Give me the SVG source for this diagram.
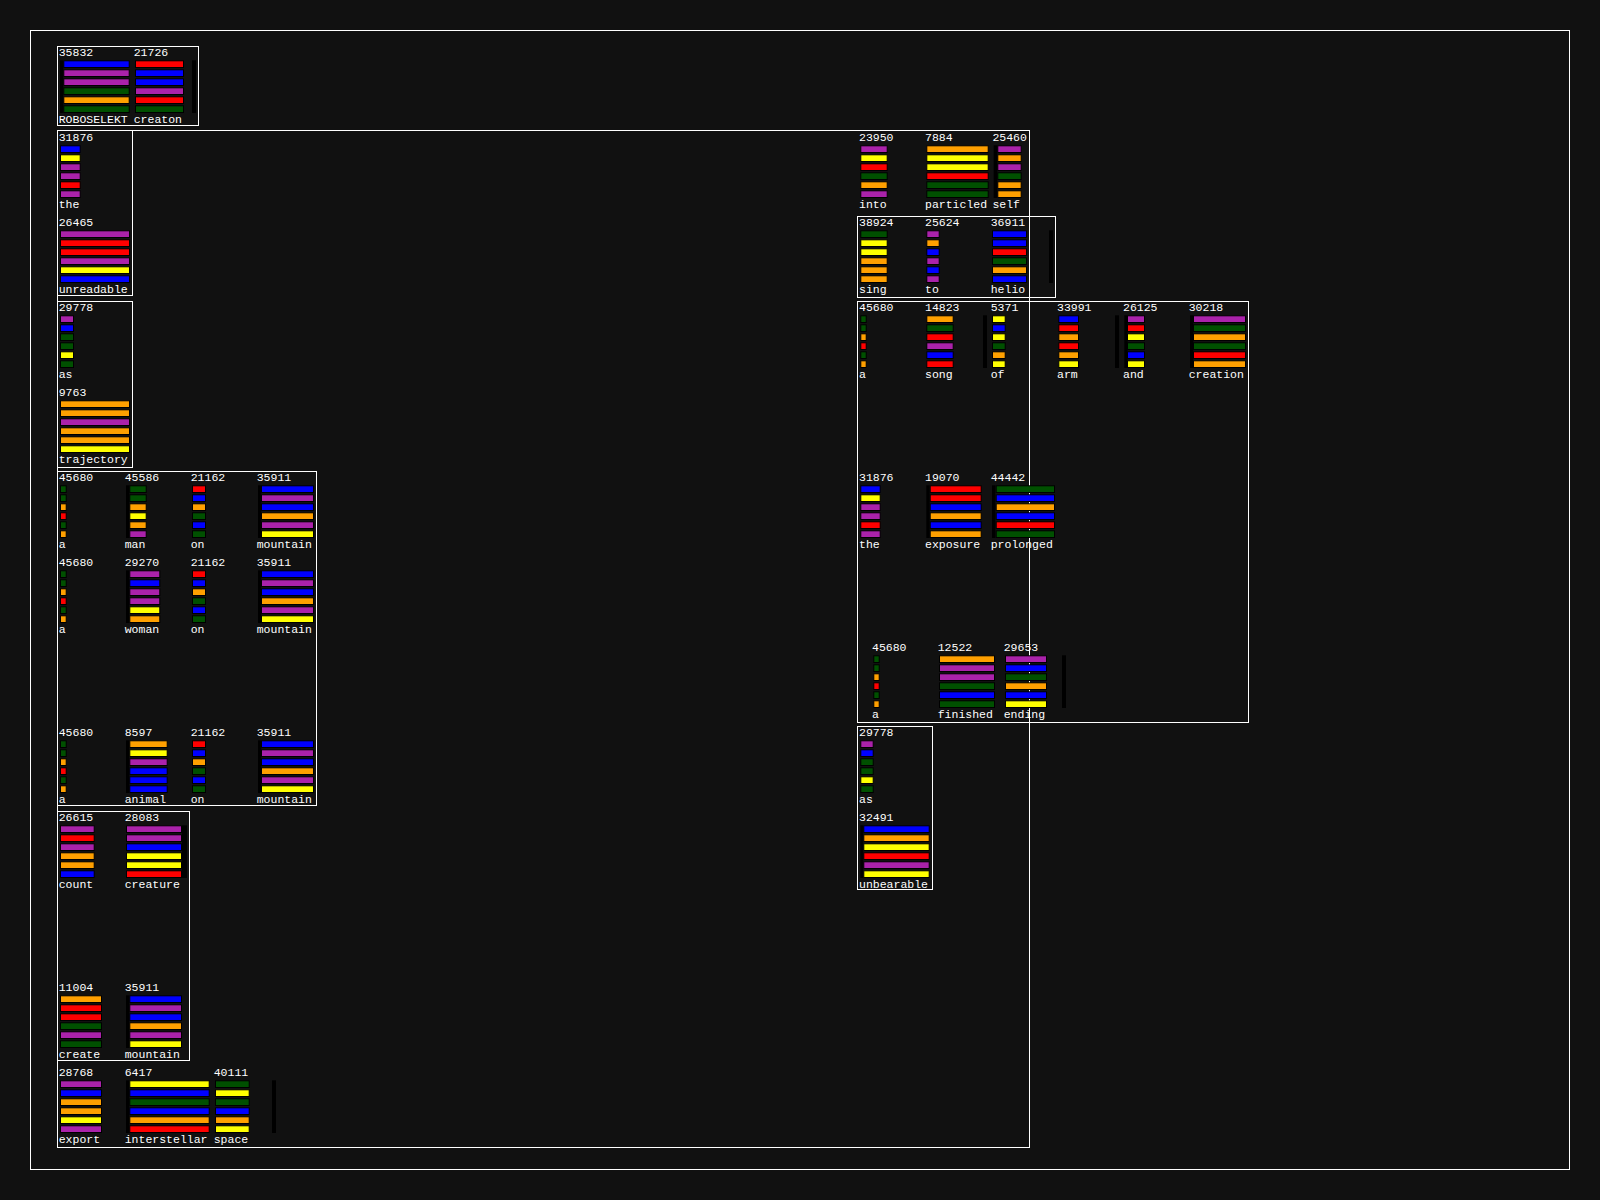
<svg xmlns="http://www.w3.org/2000/svg" width="1600" height="1200" viewBox="0 0 1600 1200">
<style>
.t{font-family:"Liberation Mono","DejaVu Sans Mono",monospace;font-size:11.5px;fill:#fff}
.f{fill:none;stroke:#fff;stroke-width:1}
rect.b{stroke:#000;stroke-width:1;height:6.7px}
.B{fill:#0000ff}.P{fill:#aa22aa}.G{fill:#005000}.O{fill:#ffa000}.Y{fill:#ffff00}.R{fill:#ff0000}
.k{fill:#000}
</style>
<rect x="0" y="0" width="1600" height="1200" fill="#111111"/>
<g id="frames">
<rect class="f" x="30.5" y="30.5" width="1539" height="1139"/>
<rect class="f" x="57.5" y="46.5" width="141" height="79"/>
<rect class="f" x="57.5" y="130.5" width="972" height="1017"/>
<rect class="f" x="57.5" y="130.5" width="75" height="165"/>
<rect class="f" x="57.5" y="301.5" width="75" height="166"/>
<rect class="f" x="57.5" y="471.5" width="259" height="334"/>
<rect class="f" x="57.5" y="811.5" width="132" height="249"/>
<rect class="f" x="857.5" y="216.5" width="198" height="81"/>
<rect class="f" x="857.5" y="301.5" width="391" height="421"/>
<rect class="f" x="857.5" y="726.5" width="75" height="163"/>
</g>
<g id="connectors"></g>

<!-- Box A -->
<g id="n-roboselekt" transform="translate(60,56)">
<rect class="k" x="0" y="4.3" width="3.3" height="52.7"/>
<rect class="b B" x="3.8" y="4.8" width="65.4"/><rect class="b P" x="3.8" y="13.8" width="65.4"/><rect class="b P" x="3.8" y="22.8" width="65.4"/><rect class="b G" x="3.8" y="31.8" width="65.4"/><rect class="b O" x="3.8" y="40.8" width="65.4"/><rect class="b G" x="3.8" y="49.8" width="65.4"/>
<text class="t" x="-1.3" y="0">35832</text><text class="t" x="-1.3" y="66.7">ROBOSELEKT</text>
</g>
<g id="n-creaton" transform="translate(135,56)">
<rect class="b R" x="0.5" y="4.8" width="48"/><rect class="b B" x="0.5" y="13.8" width="48"/><rect class="b B" x="0.5" y="22.8" width="48"/><rect class="b P" x="0.5" y="31.8" width="48"/><rect class="b R" x="0.5" y="40.8" width="48"/><rect class="b G" x="0.5" y="49.8" width="48"/>
<text class="t" x="-1.3" y="0">21726</text><text class="t" x="-1.3" y="66.7">creaton</text>
</g>
<g id="s-a"><rect class="k" x="192" y="60.3" width="4" height="52.7"/></g>

<!-- Box B -->
<g id="n-the-1" transform="translate(60,141)">
<rect class="b B" x="0.5" y="4.8" width="19.7"/><rect class="b Y" x="0.5" y="13.8" width="19.7"/><rect class="b P" x="0.5" y="22.8" width="19.7"/><rect class="b P" x="0.5" y="31.8" width="19.7"/><rect class="b R" x="0.5" y="40.8" width="19.7"/><rect class="b P" x="0.5" y="49.8" width="19.7"/>
<text class="t" x="-1.3" y="0">31876</text><text class="t" x="-1.3" y="66.7">the</text>
</g>
<g id="n-unreadable" transform="translate(60,226)">
<rect class="b P" x="0.5" y="4.8" width="69"/><rect class="b R" x="0.5" y="13.8" width="69"/><rect class="b R" x="0.5" y="22.8" width="69"/><rect class="b P" x="0.5" y="31.8" width="69"/><rect class="b Y" x="0.5" y="40.8" width="69"/><rect class="b B" x="0.5" y="49.8" width="69"/>
<text class="t" x="-1.3" y="0">26465</text><text class="t" x="-1.3" y="66.7">unreadable</text>
</g>

<!-- Box C -->
<g id="n-as-1" transform="translate(60,311)">
<rect class="b P" x="0.5" y="4.8" width="13"/><rect class="b B" x="0.5" y="13.8" width="13"/><rect class="b G" x="0.5" y="22.8" width="13"/><rect class="b G" x="0.5" y="31.8" width="13"/><rect class="b Y" x="0.5" y="40.8" width="13"/><rect class="b G" x="0.5" y="49.8" width="13"/>
<text class="t" x="-1.3" y="0">29778</text><text class="t" x="-1.3" y="66.7">as</text>
</g>
<g id="n-trajectory" transform="translate(60,396)">
<rect class="b O" x="0.5" y="4.8" width="69"/><rect class="b O" x="0.5" y="13.8" width="69"/><rect class="b P" x="0.5" y="22.8" width="69"/><rect class="b O" x="0.5" y="31.8" width="69"/><rect class="b O" x="0.5" y="40.8" width="69"/><rect class="b Y" x="0.5" y="49.8" width="69"/>
<text class="t" x="-1.3" y="0">9763</text><text class="t" x="-1.3" y="66.7">trajectory</text>
</g>

<!-- Box D -->
<g id="n-a-1" transform="translate(60,481)">
<rect class="b G" x="0.5" y="4.8" width="5.7"/><rect class="b G" x="0.5" y="13.8" width="5.7"/><rect class="b O" x="0.5" y="22.8" width="5.7"/><rect class="b R" x="0.5" y="31.8" width="5.7"/><rect class="b G" x="0.5" y="40.8" width="5.7"/><rect class="b O" x="0.5" y="49.8" width="5.7"/>
<text class="t" x="-1.3" y="0">45680</text><text class="t" x="-1.3" y="66.7">a</text>
</g>
<g id="n-man" transform="translate(126,481)">
<rect class="k" x="0" y="4.3" width="3.3" height="52.7"/>
<rect class="b G" x="3.8" y="4.8" width="16.4"/><rect class="b G" x="3.8" y="13.8" width="16.4"/><rect class="b O" x="3.8" y="22.8" width="16.4"/><rect class="b Y" x="3.8" y="31.8" width="16.4"/><rect class="b O" x="3.8" y="40.8" width="16.4"/><rect class="b P" x="3.8" y="49.8" width="16.4"/>
<text class="t" x="-1.3" y="0">45586</text><text class="t" x="-1.3" y="66.7">man</text>
</g>
<g id="n-on-1" transform="translate(192,481)">
<rect class="b R" x="0.5" y="4.8" width="13"/><rect class="b B" x="0.5" y="13.8" width="13"/><rect class="b O" x="0.5" y="22.8" width="13"/><rect class="b G" x="0.5" y="31.8" width="13"/><rect class="b B" x="0.5" y="40.8" width="13"/><rect class="b G" x="0.5" y="49.8" width="13"/>
<text class="t" x="-1.3" y="0">21162</text><text class="t" x="-1.3" y="66.7">on</text>
</g>
<g id="n-mountain-1" transform="translate(258,481)">
<rect class="k" x="0" y="4.3" width="3.3" height="52.7"/>
<rect class="b B" x="3.5" y="4.8" width="52"/><rect class="b P" x="3.5" y="13.8" width="52"/><rect class="b B" x="3.5" y="22.8" width="52"/><rect class="b O" x="3.5" y="31.8" width="52"/><rect class="b P" x="3.5" y="40.8" width="52"/><rect class="b Y" x="3.5" y="49.8" width="52"/>
<text class="t" x="-1.3" y="0">35911</text><text class="t" x="-1.3" y="66.7">mountain</text>
</g>

<g id="n-a-2" transform="translate(60,566)">
<rect class="b G" x="0.5" y="4.8" width="5.7"/><rect class="b G" x="0.5" y="13.8" width="5.7"/><rect class="b O" x="0.5" y="22.8" width="5.7"/><rect class="b R" x="0.5" y="31.8" width="5.7"/><rect class="b G" x="0.5" y="40.8" width="5.7"/><rect class="b O" x="0.5" y="49.8" width="5.7"/>
<text class="t" x="-1.3" y="0">45680</text><text class="t" x="-1.3" y="66.7">a</text>
</g>
<g id="n-woman" transform="translate(126,566)">
<rect class="k" x="0" y="4.3" width="3.3" height="52.7"/>
<rect class="b P" x="3.8" y="4.8" width="30"/><rect class="b B" x="3.8" y="13.8" width="30"/><rect class="b P" x="3.8" y="22.8" width="30"/><rect class="b P" x="3.8" y="31.8" width="30"/><rect class="b Y" x="3.8" y="40.8" width="30"/><rect class="b O" x="3.8" y="49.8" width="30"/>
<text class="t" x="-1.3" y="0">29270</text><text class="t" x="-1.3" y="66.7">woman</text>
</g>
<g id="n-on-2" transform="translate(192,566)">
<rect class="b R" x="0.5" y="4.8" width="13"/><rect class="b B" x="0.5" y="13.8" width="13"/><rect class="b O" x="0.5" y="22.8" width="13"/><rect class="b G" x="0.5" y="31.8" width="13"/><rect class="b B" x="0.5" y="40.8" width="13"/><rect class="b G" x="0.5" y="49.8" width="13"/>
<text class="t" x="-1.3" y="0">21162</text><text class="t" x="-1.3" y="66.7">on</text>
</g>
<g id="n-mountain-2" transform="translate(258,566)">
<rect class="k" x="0" y="4.3" width="3.3" height="52.7"/>
<rect class="b B" x="3.5" y="4.8" width="52"/><rect class="b P" x="3.5" y="13.8" width="52"/><rect class="b B" x="3.5" y="22.8" width="52"/><rect class="b O" x="3.5" y="31.8" width="52"/><rect class="b P" x="3.5" y="40.8" width="52"/><rect class="b Y" x="3.5" y="49.8" width="52"/>
<text class="t" x="-1.3" y="0">35911</text><text class="t" x="-1.3" y="66.7">mountain</text>
</g>

<g id="n-a-3" transform="translate(60,736)">
<rect class="b G" x="0.5" y="4.8" width="5.7"/><rect class="b G" x="0.5" y="13.8" width="5.7"/><rect class="b O" x="0.5" y="22.8" width="5.7"/><rect class="b R" x="0.5" y="31.8" width="5.7"/><rect class="b G" x="0.5" y="40.8" width="5.7"/><rect class="b O" x="0.5" y="49.8" width="5.7"/>
<text class="t" x="-1.3" y="0">45680</text><text class="t" x="-1.3" y="66.7">a</text>
</g>
<g id="n-animal" transform="translate(126,736)">
<rect class="k" x="0" y="4.3" width="3.3" height="52.7"/>
<rect class="b O" x="3.8" y="4.8" width="37.4"/><rect class="b Y" x="3.8" y="13.8" width="37.4"/><rect class="b P" x="3.8" y="22.8" width="37.4"/><rect class="b B" x="3.8" y="31.8" width="37.4"/><rect class="b B" x="3.8" y="40.8" width="37.4"/><rect class="b B" x="3.8" y="49.8" width="37.4"/>
<text class="t" x="-1.3" y="0">8597</text><text class="t" x="-1.3" y="66.7">animal</text>
</g>
<g id="n-on-3" transform="translate(192,736)">
<rect class="b R" x="0.5" y="4.8" width="13"/><rect class="b B" x="0.5" y="13.8" width="13"/><rect class="b O" x="0.5" y="22.8" width="13"/><rect class="b G" x="0.5" y="31.8" width="13"/><rect class="b B" x="0.5" y="40.8" width="13"/><rect class="b G" x="0.5" y="49.8" width="13"/>
<text class="t" x="-1.3" y="0">21162</text><text class="t" x="-1.3" y="66.7">on</text>
</g>
<g id="n-mountain-3" transform="translate(258,736)">
<rect class="k" x="0" y="4.3" width="3.3" height="52.7"/>
<rect class="b B" x="3.5" y="4.8" width="52"/><rect class="b P" x="3.5" y="13.8" width="52"/><rect class="b B" x="3.5" y="22.8" width="52"/><rect class="b O" x="3.5" y="31.8" width="52"/><rect class="b P" x="3.5" y="40.8" width="52"/><rect class="b Y" x="3.5" y="49.8" width="52"/>
<text class="t" x="-1.3" y="0">35911</text><text class="t" x="-1.3" y="66.7">mountain</text>
</g>

<!-- Box E -->
<g id="n-count" transform="translate(60,821)">
<rect class="b P" x="0.5" y="4.8" width="33.7"/><rect class="b R" x="0.5" y="13.8" width="33.7"/><rect class="b P" x="0.5" y="22.8" width="33.7"/><rect class="b O" x="0.5" y="31.8" width="33.7"/><rect class="b O" x="0.5" y="40.8" width="33.7"/><rect class="b B" x="0.5" y="49.8" width="33.7"/>
<text class="t" x="-1.3" y="0">26615</text><text class="t" x="-1.3" y="66.7">count</text>
</g>
<g id="n-creature" transform="translate(126,821)">
<rect class="k" x="56" y="4.3" width="5" height="52.7"/>
<rect class="b P" x="0.5" y="4.8" width="55"/><rect class="b P" x="0.5" y="13.8" width="55"/><rect class="b B" x="0.5" y="22.8" width="55"/><rect class="b Y" x="0.5" y="31.8" width="55"/><rect class="b Y" x="0.5" y="40.8" width="55"/><rect class="b R" x="0.5" y="49.8" width="55"/>
<text class="t" x="-1.3" y="0">28083</text><text class="t" x="-1.3" y="66.7">creature</text>
</g>
<g id="n-create" transform="translate(60,991)">
<rect class="b O" x="0.5" y="4.8" width="41"/><rect class="b R" x="0.5" y="13.8" width="41"/><rect class="b R" x="0.5" y="22.8" width="41"/><rect class="b G" x="0.5" y="31.8" width="41"/><rect class="b P" x="0.5" y="40.8" width="41"/><rect class="b G" x="0.5" y="49.8" width="41"/>
<text class="t" x="-1.3" y="0">11004</text><text class="t" x="-1.3" y="66.7">create</text>
</g>
<g id="n-mountain-4" transform="translate(126,991)">
<rect class="k" x="0" y="4.3" width="3.3" height="52.7"/>
<rect class="b B" x="3.8" y="4.8" width="51.7"/><rect class="b P" x="3.8" y="13.8" width="51.7"/><rect class="b B" x="3.8" y="22.8" width="51.7"/><rect class="b O" x="3.8" y="31.8" width="51.7"/><rect class="b P" x="3.8" y="40.8" width="51.7"/><rect class="b Y" x="3.8" y="49.8" width="51.7"/>
<text class="t" x="-1.3" y="0">35911</text><text class="t" x="-1.3" y="66.7">mountain</text>
</g>

<!-- Export row -->
<g id="n-export" transform="translate(60,1076)">
<rect class="b P" x="0.5" y="4.8" width="41"/><rect class="b B" x="0.5" y="13.8" width="41"/><rect class="b O" x="0.5" y="22.8" width="41"/><rect class="b O" x="0.5" y="31.8" width="41"/><rect class="b Y" x="0.5" y="40.8" width="41"/><rect class="b P" x="0.5" y="49.8" width="41"/>
<text class="t" x="-1.3" y="0">28768</text><text class="t" x="-1.3" y="66.7">export</text>
</g>
<g id="n-interstellar" transform="translate(126,1076)">
<rect class="k" x="0" y="4.3" width="3.3" height="52.7"/>
<rect class="b Y" x="3.8" y="4.8" width="79.4"/><rect class="b B" x="3.8" y="13.8" width="79.4"/><rect class="b G" x="3.8" y="22.8" width="79.4"/><rect class="b B" x="3.8" y="31.8" width="79.4"/><rect class="b O" x="3.8" y="40.8" width="79.4"/><rect class="b R" x="3.8" y="49.8" width="79.4"/>
<text class="t" x="-1.3" y="0">6417</text><text class="t" x="-1.3" y="66.7">interstellar</text>
</g>
<g id="n-space" transform="translate(215,1076)">
<rect class="b G" x="0.5" y="4.8" width="33.7"/><rect class="b Y" x="0.5" y="13.8" width="33.7"/><rect class="b G" x="0.5" y="22.8" width="33.7"/><rect class="b B" x="0.5" y="31.8" width="33.7"/><rect class="b O" x="0.5" y="40.8" width="33.7"/><rect class="b Y" x="0.5" y="49.8" width="33.7"/>
<text class="t" x="-1.3" y="0">40111</text><text class="t" x="-1.3" y="66.7">space</text>
</g>
<g id="s-export"><rect class="k" x="272" y="1080.3" width="4" height="52.7"/></g>

<!-- Right: row 1 -->
<g id="n-into" transform="translate(860.3,141)">
<rect class="b P" x="0.5" y="4.8" width="26.4"/><rect class="b Y" x="0.5" y="13.8" width="26.4"/><rect class="b R" x="0.5" y="22.8" width="26.4"/><rect class="b G" x="0.5" y="31.8" width="26.4"/><rect class="b O" x="0.5" y="40.8" width="26.4"/><rect class="b P" x="0.5" y="49.8" width="26.4"/>
<text class="t" x="-1.3" y="0">23950</text><text class="t" x="-1.3" y="66.7">into</text>
</g>
<g id="n-particled" transform="translate(926.3,141)">
<rect class="b O" x="0.5" y="4.8" width="61.4"/><rect class="b Y" x="0.5" y="13.8" width="61.4"/><rect class="b Y" x="0.5" y="22.8" width="61.4"/><rect class="b R" x="0.5" y="31.8" width="61.4"/><rect class="b G" x="0.5" y="40.8" width="61.4"/><rect class="b G" x="0.5" y="49.8" width="61.4"/>
<text class="t" x="-1.3" y="0">7884</text><text class="t" x="-1.3" y="66.7">particled</text>
</g>
<g id="n-self" transform="translate(993.7,141)">
<rect class="k" x="0" y="4.3" width="3.6" height="52.7"/>
<rect class="b P" x="4.1" y="4.8" width="23.4"/><rect class="b O" x="4.1" y="13.8" width="23.4"/><rect class="b P" x="4.1" y="22.8" width="23.4"/><rect class="b G" x="4.1" y="31.8" width="23.4"/><rect class="b O" x="4.1" y="40.8" width="23.4"/><rect class="b O" x="4.1" y="49.8" width="23.4"/>
<text class="t" x="-1.3" y="0">25460</text><text class="t" x="-1.3" y="66.7">self</text>
</g>

<!-- Box H -->
<g id="n-sing" transform="translate(860.3,226)">
<rect class="b G" x="0.5" y="4.8" width="26.4"/><rect class="b Y" x="0.5" y="13.8" width="26.4"/><rect class="b Y" x="0.5" y="22.8" width="26.4"/><rect class="b O" x="0.5" y="31.8" width="26.4"/><rect class="b O" x="0.5" y="40.8" width="26.4"/><rect class="b O" x="0.5" y="49.8" width="26.4"/>
<text class="t" x="-1.3" y="0">38924</text><text class="t" x="-1.3" y="66.7">sing</text>
</g>
<g id="n-to" transform="translate(926.3,226)">
<rect class="b P" x="0.5" y="4.8" width="12.4"/><rect class="b O" x="0.5" y="13.8" width="12.4"/><rect class="b B" x="0.5" y="22.8" width="12.4"/><rect class="b P" x="0.5" y="31.8" width="12.4"/><rect class="b B" x="0.5" y="40.8" width="12.4"/><rect class="b P" x="0.5" y="49.8" width="12.4"/>
<text class="t" x="-1.3" y="0">25624</text><text class="t" x="-1.3" y="66.7">to</text>
</g>
<g id="n-helio" transform="translate(992,226)">
<rect class="b B" x="0.5" y="4.8" width="34"/><rect class="b B" x="0.5" y="13.8" width="34"/><rect class="b R" x="0.5" y="22.8" width="34"/><rect class="b G" x="0.5" y="31.8" width="34"/><rect class="b O" x="0.5" y="40.8" width="34"/><rect class="b B" x="0.5" y="49.8" width="34"/>
<text class="t" x="-1.3" y="0">36911</text><text class="t" x="-1.3" y="66.7">helio</text>
</g>
<g id="s-h"><rect class="k" x="1049" y="230.3" width="4" height="52.7"/></g>

<!-- Box I row 3 -->
<g id="n-a-4" transform="translate(860.3,311)">
<rect class="b G" x="0.5" y="4.8" width="5.4"/><rect class="b G" x="0.5" y="13.8" width="5.4"/><rect class="b O" x="0.5" y="22.8" width="5.4"/><rect class="b R" x="0.5" y="31.8" width="5.4"/><rect class="b G" x="0.5" y="40.8" width="5.4"/><rect class="b O" x="0.5" y="49.8" width="5.4"/>
<text class="t" x="-1.3" y="0">45680</text><text class="t" x="-1.3" y="66.7">a</text>
</g>
<g id="n-song" transform="translate(926.3,311)">
<rect class="b O" x="0.5" y="4.8" width="26.4"/><rect class="b G" x="0.5" y="13.8" width="26.4"/><rect class="b R" x="0.5" y="22.8" width="26.4"/><rect class="b P" x="0.5" y="31.8" width="26.4"/><rect class="b B" x="0.5" y="40.8" width="26.4"/><rect class="b R" x="0.5" y="49.8" width="26.4"/>
<text class="t" x="-1.3" y="0">14823</text><text class="t" x="-1.3" y="66.7">song</text>
</g>
<g id="s-i1"><rect class="k" x="983" y="315.3" width="4" height="52.7"/></g>
<g id="n-of" transform="translate(992,311)">
<rect class="b Y" x="0.5" y="4.8" width="12.7"/><rect class="b B" x="0.5" y="13.8" width="12.7"/><rect class="b Y" x="0.5" y="22.8" width="12.7"/><rect class="b G" x="0.5" y="31.8" width="12.7"/><rect class="b O" x="0.5" y="40.8" width="12.7"/><rect class="b Y" x="0.5" y="49.8" width="12.7"/>
<text class="t" x="-1.3" y="0">5371</text><text class="t" x="-1.3" y="66.7">of</text>
</g>
<g id="n-arm" transform="translate(1058.3,311)">
<rect class="b B" x="0.5" y="4.8" width="19.7"/><rect class="b R" x="0.5" y="13.8" width="19.7"/><rect class="b O" x="0.5" y="22.8" width="19.7"/><rect class="b R" x="0.5" y="31.8" width="19.7"/><rect class="b O" x="0.5" y="40.8" width="19.7"/><rect class="b Y" x="0.5" y="49.8" width="19.7"/>
<text class="t" x="-1.3" y="0">33991</text><text class="t" x="-1.3" y="66.7">arm</text>
</g>
<g id="s-i2"><rect class="k" x="1115" y="315.3" width="4" height="52.7"/></g>
<g id="n-and" transform="translate(1124.3,311)">
<rect class="k" x="0" y="4.3" width="3.3" height="52.7"/>
<rect class="b P" x="3.2" y="4.8" width="17"/><rect class="b R" x="3.2" y="13.8" width="17"/><rect class="b Y" x="3.2" y="22.8" width="17"/><rect class="b G" x="3.2" y="31.8" width="17"/><rect class="b B" x="3.2" y="40.8" width="17"/><rect class="b Y" x="3.2" y="49.8" width="17"/>
<text class="t" x="-1.3" y="0">26125</text><text class="t" x="-1.3" y="66.7">and</text>
</g>
<g id="n-creation" transform="translate(1190,311)">
<rect class="k" x="0" y="4.3" width="3.3" height="52.7"/>
<rect class="b P" x="3.5" y="4.8" width="52"/><rect class="b G" x="3.5" y="13.8" width="52"/><rect class="b O" x="3.5" y="22.8" width="52"/><rect class="b G" x="3.5" y="31.8" width="52"/><rect class="b R" x="3.5" y="40.8" width="52"/><rect class="b O" x="3.5" y="49.8" width="52"/>
<text class="t" x="-1.3" y="0">30218</text><text class="t" x="-1.3" y="66.7">creation</text>
</g>

<!-- Box I row 5 -->
<g id="n-the-2" transform="translate(860.3,481)">
<rect class="b B" x="0.5" y="4.8" width="19.4"/><rect class="b Y" x="0.5" y="13.8" width="19.4"/><rect class="b P" x="0.5" y="22.8" width="19.4"/><rect class="b P" x="0.5" y="31.8" width="19.4"/><rect class="b R" x="0.5" y="40.8" width="19.4"/><rect class="b P" x="0.5" y="49.8" width="19.4"/>
<text class="t" x="-1.3" y="0">31876</text><text class="t" x="-1.3" y="66.7">the</text>
</g>
<g id="n-exposure" transform="translate(926.3,481)">
<rect class="k" x="0" y="4.3" width="3.3" height="52.7"/>
<rect class="b R" x="3.9" y="4.8" width="51"/><rect class="b R" x="3.9" y="13.8" width="51"/><rect class="b B" x="3.9" y="22.8" width="51"/><rect class="b O" x="3.9" y="31.8" width="51"/><rect class="b B" x="3.9" y="40.8" width="51"/><rect class="b O" x="3.9" y="49.8" width="51"/>
<text class="t" x="-1.3" y="0">19070</text><text class="t" x="-1.3" y="66.7">exposure</text>
</g>
<g id="n-prolonged" transform="translate(992,481)">
<rect class="k" x="0" y="4.3" width="3.3" height="52.7"/>
<rect class="b G" x="4.2" y="4.8" width="58.3"/><rect class="b B" x="4.2" y="13.8" width="58.3"/><rect class="b O" x="4.2" y="22.8" width="58.3"/><rect class="b B" x="4.2" y="31.8" width="58.3"/><rect class="b R" x="4.2" y="40.8" width="58.3"/><rect class="b G" x="4.2" y="49.8" width="58.3"/>
<text class="t" x="-1.3" y="0">44442</text><text class="t" x="-1.3" y="66.7">prolonged</text>
</g>

<!-- Box I row 7 -->
<g id="n-a-5" transform="translate(873.3,651)">
<rect class="b G" x="0.5" y="4.8" width="5.4"/><rect class="b G" x="0.5" y="13.8" width="5.4"/><rect class="b O" x="0.5" y="22.8" width="5.4"/><rect class="b R" x="0.5" y="31.8" width="5.4"/><rect class="b G" x="0.5" y="40.8" width="5.4"/><rect class="b O" x="0.5" y="49.8" width="5.4"/>
<text class="t" x="-1.3" y="0">45680</text><text class="t" x="-1.3" y="66.7">a</text>
</g>
<g id="n-finished" transform="translate(939,651)">
<rect class="b O" x="0.5" y="4.8" width="55"/><rect class="b P" x="0.5" y="13.8" width="55"/><rect class="b P" x="0.5" y="22.8" width="55"/><rect class="b G" x="0.5" y="31.8" width="55"/><rect class="b B" x="0.5" y="40.8" width="55"/><rect class="b G" x="0.5" y="49.8" width="55"/>
<text class="t" x="-1.3" y="0">12522</text><text class="t" x="-1.3" y="66.7">finished</text>
</g>
<g id="n-ending" transform="translate(1005,651)">
<rect class="b P" x="0.5" y="4.8" width="41"/><rect class="b B" x="0.5" y="13.8" width="41"/><rect class="b G" x="0.5" y="22.8" width="41"/><rect class="b O" x="0.5" y="31.8" width="41"/><rect class="b B" x="0.5" y="40.8" width="41"/><rect class="b Y" x="0.5" y="49.8" width="41"/>
<text class="t" x="-1.3" y="0">29653</text><text class="t" x="-1.3" y="66.7">ending</text>
</g>
<g id="s-i3"><rect class="k" x="1062" y="655.3" width="4" height="52.7"/></g>

<!-- Box J -->
<g id="n-as-2" transform="translate(860.3,736)">
<rect class="b P" x="0.5" y="4.8" width="12.4"/><rect class="b B" x="0.5" y="13.8" width="12.4"/><rect class="b G" x="0.5" y="22.8" width="12.4"/><rect class="b G" x="0.5" y="31.8" width="12.4"/><rect class="b Y" x="0.5" y="40.8" width="12.4"/><rect class="b G" x="0.5" y="49.8" width="12.4"/>
<text class="t" x="-1.3" y="0">29778</text><text class="t" x="-1.3" y="66.7">as</text>
</g>
<g id="n-unbearable" transform="translate(860.3,821)">
<rect class="k" x="0" y="4.3" width="3" height="52.7"/>
<rect class="b B" x="3.5" y="4.8" width="65.4"/><rect class="b O" x="3.5" y="13.8" width="65.4"/><rect class="b Y" x="3.5" y="22.8" width="65.4"/><rect class="b R" x="3.5" y="31.8" width="65.4"/><rect class="b P" x="3.5" y="40.8" width="65.4"/><rect class="b Y" x="3.5" y="49.8" width="65.4"/>
<text class="t" x="-1.3" y="0">32491</text><text class="t" x="-1.3" y="66.7">unbearable</text>
</g>
</svg>
